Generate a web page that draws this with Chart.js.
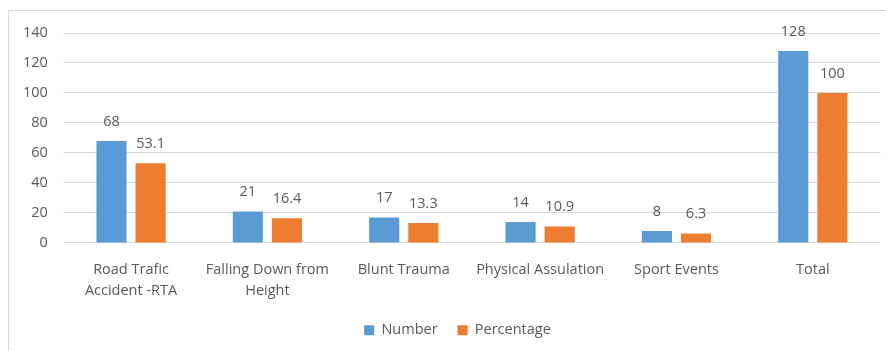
<!DOCTYPE html>
<html>
<head>
<meta charset="utf-8">
<script src="https://cdn.jsdelivr.net/npm/chart.js@4.4.1/dist/chart.umd.min.js"></script>
<style>
  html, body { margin: 0; padding: 0; background: #fff; overflow: hidden; }
  #wrap { position: relative; width: 886px; height: 351px; }
  #frame { position: absolute; left: 8px; top: 10px; width: 890px; height: 360px; border: 1px solid #d9d9d9; box-sizing: border-box; }
  canvas { position: absolute; left: 0; top: 0; }
</style>
</head>
<body>
<div id="wrap">
  <div id="frame"></div>
  <canvas id="myChart" width="886" height="351"></canvas>
</div>
<script>
// Chart values
const categories = [
    ['Road Trafic', 'Accident -RTA'],
    ['Falling Down from', 'Height'],
    'Blunt Trauma',
    'Physical Assulation',
    'Sport Events',
    'Total'
];
const numberValues = [68, 21, 17, 14, 8, 128];
const percentageValues = [53.1, 16.4, 13.3, 10.9, 6.3, 100];
const yTicks = [0, 20, 40, 60, 80, 100, 120, 140];

const textColor = '#595959';
const fontFamily = "'Open Sans', 'DejaVu Sans', sans-serif";
const fontSize = 14.5;

// Draw the value above each bar
const valueLabels = {
    id: 'valueLabels',
    afterDatasetsDraw(chart) {
        const ctx = chart.ctx;
        ctx.save();
        ctx.font = fontSize + 'px ' + fontFamily;
        ctx.fillStyle = textColor;
        ctx.textAlign = 'center';
        ctx.textBaseline = 'bottom';
        chart.data.datasets.forEach((ds, i) => {
            chart.getDatasetMeta(i).data.forEach((bar, j) => {
                ctx.fillText(String(ds.data[j]), bar.x, bar.y - 12);
            });
        });
        ctx.restore();
    }
};

// Nudge the legend block into place (Excel centres it a bit right of the canvas centre)
const legendNudge = {
    id: 'legendNudge',
    afterLayout(chart) {
        const lg = chart.legend;
        lg.left += 13; lg.right += 13;
        lg.top -= 6; lg.bottom -= 6;
    }
};

const ctx = document.getElementById('myChart').getContext('2d');
new Chart(ctx, {
    type: 'bar',
    data: {
        labels: categories,
        datasets: [{
            label: 'Number',
            data: numberValues,
            backgroundColor: '#5b9bd5',
            categoryPercentage: 0.574,
            barPercentage: 0.77
        }, {
            label: 'Percentage',
            data: percentageValues,
            backgroundColor: '#ed7d31',
            categoryPercentage: 0.574,
            barPercentage: 0.77
        }]
    },
    options: {
        responsive: false,
        animation: false,
        layout: { padding: { left: 8, right: 5, top: 33, bottom: 6 } },
        plugins: {
            legend: {
                position: 'bottom',
                maxHeight: 36,
                labels: {
                    boxWidth: 10,
                    boxHeight: 10,
                    padding: 20,
                    color: textColor,
                    font: { family: fontFamily, size: fontSize }
                }
            },
            tooltip: { enabled: false }
        },
        scales: {
            x: {
                grid: { display: false },
                border: { display: false },
                ticks: {
                    color: textColor,
                    padding: 8,
                    maxRotation: 0,
                    autoSkip: false,
                    font: { family: fontFamily, size: fontSize, lineHeight: 1.45 }
                }
            },
            y: {
                min: 0,
                max: 140,
                afterBuildTicks(axis) {
                    axis.ticks = yTicks.map(v => ({ value: v }));
                },
                grid: { color: '#d9d9d9', drawTicks: false },
                border: { display: false },
                ticks: {
                    color: textColor,
                    padding: 15,
                    font: { family: fontFamily, size: fontSize }
                }
            }
        }
    },
    plugins: [valueLabels, legendNudge]
});
</script>
</body>
</html>
